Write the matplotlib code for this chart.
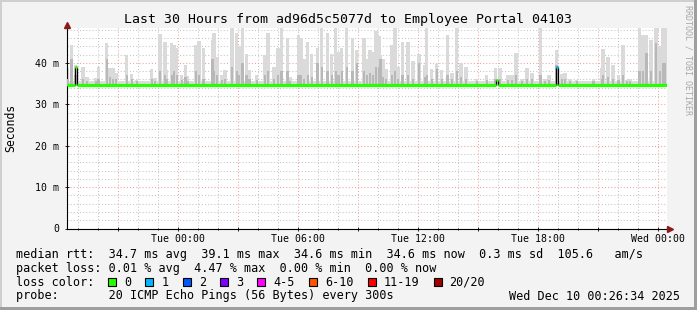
import datetime as dt
import numpy as np
import matplotlib
matplotlib.use("Agg")
import matplotlib.pyplot as plt
import matplotlib.dates as mdates
import matplotlib.transforms as mtransforms
from matplotlib.patches import Rectangle
from matplotlib.ticker import FuncFormatter

# ---- data ----
start = dt.datetime(2025, 12, 8, 18, 26, 34)
end = dt.datetime(2025, 12, 10, 0, 26, 34)

# smoke spikes: hours after start, top of light smoke (ms), top of darker smoke (ms)
spike_hours = [0.04, 0.23, 0.43, 0.80, 1.00, 1.45, 1.58, 1.99, 2.15, 2.30, 2.45, 2.99, 3.24, 3.49,
               4.24, 4.40, 4.65, 4.90, 4.99, 5.24, 5.35, 5.49, 5.74, 5.92, 6.04, 6.44, 6.60, 6.82,
               7.28, 7.35, 7.50, 7.74, 7.90, 8.25, 8.49, 8.60, 8.78, 8.98, 9.13, 9.49, 9.90,
               10.05, 10.35, 10.55, 10.73, 11.03, 11.15, 11.57, 11.70, 11.85, 12.04, 12.24, 12.53,
               12.74, 13.03, 13.24, 13.44, 13.57, 13.74, 13.99, 14.28, 14.49, 14.85,
               15.00, 15.15, 15.30, 15.45, 15.60, 15.68, 15.80, 15.95, 16.25, 16.40, 16.55, 16.78,
               17.05, 17.30, 17.60, 17.90, 17.99, 18.24, 18.49, 18.74, 19.03, 19.25, 19.49, 19.70,
               19.95, 20.49, 20.99, 21.43, 21.65, 22.05, 22.25, 22.45, 22.75, 23.00, 23.25, 23.68,
               23.90, 24.10, 24.48, 24.74, 24.90, 25.15, 25.49, 26.32, 26.74, 26.80, 27.05, 27.30,
               27.57, 27.80, 27.99, 28.15, 28.63, 28.80, 28.98, 29.20, 29.45, 29.65, 29.80, 29.90]
spike_top = [38.8, 44.4, 39.5, 38.9, 36.5, 36.3, 38.9, 44.8, 38.8, 38.8, 37.5, 41.8, 37.3, 35.9,
             38.5, 36.3, 47.0, 44.9, 38.3, 44.8, 44.4, 43.6, 37.0, 39.5, 36.7, 44.4, 45.2, 43.5,
             45.5, 47.2, 41.4, 37.0, 38.3, 48.4, 47.2, 44.0, 48.4, 42.2, 38.3, 37.0, 41.8,
             47.2, 39.0, 43.6, 48.4, 46.0, 36.5, 46.8, 46.0, 41.0, 44.9, 42.2, 43.6,
             48.4, 47.2, 42.2, 48.4, 42.6, 43.6, 48.4, 46.0, 43.2, 46.0,
             41.0, 43.0, 42.5, 47.6, 46.4, 42.0, 41.0, 38.5, 44.4, 48.4, 39.0, 44.9,
             44.9, 40.5, 42.2, 39.5, 48.4, 38.5, 39.7, 38.3, 46.8, 37.5, 48.5, 40.0,
             39.0, 36.0, 37.0, 38.7, 38.7, 37.1, 37.1, 42.4, 36.0, 38.7, 37.5, 48.4,
             36.0, 37.1, 43.2, 37.3, 37.5, 36.0, 35.8, 36.0, 38.7, 43.3, 41.3, 39.5,
             37.1, 44.4, 35.8, 36.0, 48.4, 46.8, 46.8, 45.6, 48.4, 44.0, 48.4, 48.4]
spike_dark = [36.0, 41.0, 37.0, 36.0, 35.5, 35.5, 36.0, 41.0, 36.5, 36.0, 36.0, 37.0, 36.0, 35.5,
              36.0, 35.5, 38.0, 37.0, 36.0, 37.0, 38.0, 37.0, 35.8, 36.5, 35.5, 38.0, 37.0, 36.0,
              41.0, 38.0, 37.0, 35.8, 36.0, 39.0, 38.0, 37.0, 40.0, 37.0, 36.0, 35.8, 37.0,
              38.0, 36.0, 37.0, 38.0, 38.0, 35.5, 37.0, 37.0, 36.0, 37.0, 36.5, 40.0,
              39.0, 38.0, 37.0, 38.0, 37.0, 38.0, 39.0, 38.0, 40.0, 38.0,
              37.0, 37.5, 37.0, 39.0, 39.0, 41.0, 36.5, 36.0, 37.0, 38.0, 36.0, 37.0,
              37.0, 36.0, 40.0, 36.5, 37.0, 36.0, 38.5, 36.0, 37.0, 36.0, 38.0, 36.5,
              36.0, 35.5, 35.8, 36.0, 36.0, 35.8, 35.8, 37.0, 35.5, 36.0, 36.0, 37.0,
              35.5, 35.8, 39.5, 36.0, 36.0, 35.5, 35.5, 35.5, 36.0, 37.0, 36.5, 36.0,
              35.8, 37.0, 35.5, 35.5, 38.0, 38.0, 42.4, 38.0, 44.8, 38.0, 40.0, 40.0]
smoke_floor = 34.3
smoke_band_top = 35.6

# median rtt steps (hours after start), value (ms) and lost pings in that step
med_hours = [0.0, 0.40, 0.48, 21.47, 21.55, 24.45, 24.53]
med_ms = [34.7, 39.1, 34.7, 35.9, 34.7, 39.1, 34.7]
med_loss = [0, 0, 0, 0, 0, 1, 0]

loss_labels = ["0", "1", "2", "3", "4-5", "6-10", "11-19", "20/20"]
loss_colors = ["#26ff00", "#00b8ff", "#0059ff", "#7e00ff", "#ff00ff", "#ff5500", "#ff0000", "#a10000"]

y_ticks = [0, 10, 20, 30, 40]
y_tick_labels = ["0", "10 m", "20 m", "30 m", "40 m"]

title = "Last 30 Hours from ad96d5c5077d to Employee Portal 04103"
row_rtt = "median rtt:  34.7 ms avg  39.1 ms max  34.6 ms min  34.6 ms now  0.3 ms sd  105.6   am/s"
row_loss = "packet loss: 0.01 % avg  4.47 % max  0.00 % min  0.00 % now"
row_color = "loss color:"
row_probe = "probe:       20 ICMP Echo Pings (56 Bytes) every 300s"
stamp = "Wed Dec 10 00:26:34 2025"

# ---- figure ----
W, H = 697, 310
mono = "DejaVu Sans Mono"
fig = plt.figure(figsize=(W / 100, H / 100), dpi=100, facecolor="#f3f3f3")

# background layer in pixel coordinates (frame + texts)
bg = fig.add_axes([0, 0, 1, 1], zorder=0)
bg.set_xlim(0, W)
bg.set_ylim(H, 0)
bg.axis("off")
bg.add_patch(Rectangle((0, 0), W, 2, color="#cfcfcf", lw=0))
bg.add_patch(Rectangle((0, 0), 2, H, color="#cfcfcf", lw=0))
bg.add_patch(Rectangle((0, H - 3), W, 3, color="#9e9e9e", lw=0))
bg.add_patch(Rectangle((W - 3, 0), 3, H, color="#9e9e9e", lw=0))

plot_left, plot_right, plot_top, plot_bottom = 67, 667, 28, 228.5
ax = fig.add_axes([plot_left / W, (H - plot_bottom) / H,
                   (plot_right - plot_left) / W, (plot_bottom - plot_top) / H], zorder=1)
ax.set_facecolor("white")

to_num = lambda h: mdates.date2num(start + dt.timedelta(hours=h))
xs = np.array([to_num(h) for h in spike_hours])
step_w = 0.17 / 24

# smoke
ax.fill_between([to_num(0), to_num(30)], smoke_floor, smoke_band_top, color="#dcdcdc", lw=0, zorder=2)
ax.bar(xs, np.array(spike_top) - smoke_floor, bottom=smoke_floor, width=step_w,
       color="#dadada", lw=0, zorder=2)
ax.bar(xs, np.array(spike_dark) - smoke_floor, bottom=smoke_floor, width=step_w * 0.7,
       color="#b8b8b8", lw=0, zorder=3)

# median line, coloured by loss
seg_end = med_hours[1:] + [30.0]
for h0, h1, v, n in zip(med_hours, seg_end, med_ms, med_loss):
    ax.hlines(v, to_num(h0), to_num(h1), color=loss_colors[n], lw=2.3, zorder=5)
for i in range(1, len(med_hours)):
    ax.vlines(to_num(med_hours[i]), min(med_ms[i - 1], med_ms[i]), max(med_ms[i - 1], med_ms[i]),
              color="black", lw=0.9, zorder=4)

ax.set_xlim(to_num(0), to_num(30))
ax.set_ylim(0, 48.4)

# axes, ticks and grid
ax.xaxis.set_major_locator(mdates.HourLocator(byhour=range(0, 24, 3)))
ax.xaxis.set_minor_locator(mdates.HourLocator())


def xlab(v, pos):
    d = mdates.num2date(v)
    return d.strftime("%a %H:%M") if d.hour % 6 == 0 else ""


ax.xaxis.set_major_formatter(FuncFormatter(xlab))
ax.set_yticks(y_ticks)
ax.set_yticklabels(y_tick_labels)
ax.set_yticks(np.arange(0, 48.4, 2), minor=True)
ax.grid(which="major", color="#f5a0a0", linestyle=(0, (1, 2)), lw=0.75)
ax.grid(which="minor", color="#c4c4c4", linestyle=(0, (1, 2)), lw=0.75)
ax.set_axisbelow(True)
ax.tick_params(which="both", direction="inout", length=3, width=0.6, color="black",
               labelsize=7.1, pad=2.5)
ax.tick_params(which="minor", length=1.5)
ax.tick_params(axis="y", which="minor", length=0)
ax.tick_params(axis="y", pad=4)
for lab in ax.get_xticklabels() + ax.get_yticklabels():
    lab.set_family(mono)
for s in ["top", "right"]:
    ax.spines[s].set_visible(False)
for s in ["left", "bottom"]:
    ax.spines[s].set_color("black")
    ax.spines[s].set_linewidth(0.8)

# axis arrows
up = mtransforms.offset_copy(ax.transAxes, fig=fig, x=0, y=3, units="dots")
right = mtransforms.offset_copy(ax.transAxes, fig=fig, x=3, y=0, units="dots")
ax.plot([0], [1], marker="^", ms=4.5, color="#8b1a1a", transform=up, clip_on=False, zorder=6)
ax.plot([1], [0], marker=">", ms=4.5, color="#8b1a1a", transform=right, clip_on=False, zorder=6)

# texts
bg.text(347.5, 19, title, family=mono, fontsize=9.5, ha="center", va="center")
bg.text(11, 128, "Seconds", family=mono, fontsize=8.3, rotation=90, ha="center", va="center")
bg.text(688, 60, "RRDTOOL / TOBI OETIKER", family=mono, fontsize=6, rotation=270,
        ha="center", va="center", color="#a8a8a8")

cw = 7.115
tx = 16
bg.text(tx, 254.3, row_rtt, family=mono, fontsize=8.5, va="center")
bg.text(tx, 268.3, row_loss, family=mono, fontsize=8.5, va="center")
bg.text(tx, 282, row_color, family=mono, fontsize=8.5, va="center")
bg.text(tx, 296, row_probe, family=mono, fontsize=8.5, va="center")
bg.text(680, 296, stamp, family=mono, fontsize=8.5, va="center", ha="right")

bx = tx + 12.93 * cw
for lab, col in zip(loss_labels, loss_colors):
    bg.add_patch(Rectangle((bx, 278), 8, 8, facecolor=col, edgecolor="black", lw=0.8))
    bg.text(bx + 16, 282, lab, family=mono, fontsize=8.5, va="center")
    bx += (len(lab) + 4.25) * cw

fig.savefig("out.png", dpi=100, facecolor=fig.get_facecolor())
